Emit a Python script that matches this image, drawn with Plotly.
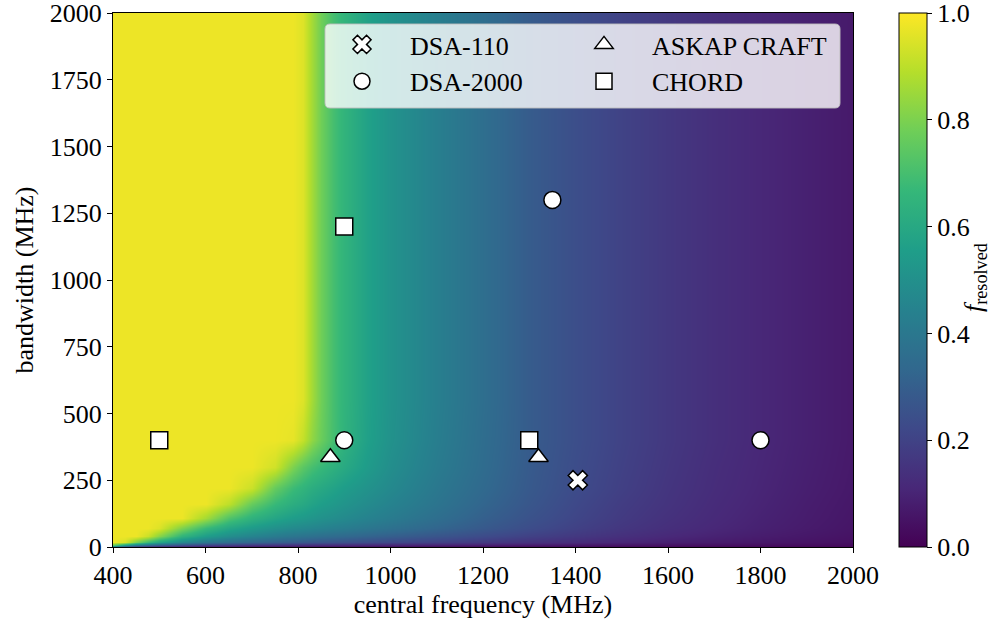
import plotly.graph_objects as go

# ---------------- data ----------------
freq_mhz = [400, 425, 450, 475, 500, 550, 600, 650, 700, 750, 790, 810, 830, 850,
            875, 900, 950, 1000, 1100, 1200, 1300, 1400, 1500, 1600, 1700, 1800, 1900, 2000]
bw_mhz = [0, 8, 20, 40, 70, 110, 160, 220, 300, 400, 550, 2000]

# f_resolved, one row per bandwidth
f_bw0 = [.30, .18, .11, .08, .06, .05, .04, .035, .03, .028, .026, .025, .024, .023,
         .022, .021, .02, .019, .017, .015, .013, .012, .011, .01, .009, .008, .007, .006]
f_bw8 = [.75, .55, .42, .35, .30, .24, .20, .18, .16, .15, .14, .135, .13, .126,
         .122, .118, .11, .103, .092, .082, .072, .063, .055, .048, .042, .036, .031, .027]
f_bw20 = [.975, .94, .80, .68, .59, .47, .40, .36, .33, .305, .29, .28, .272, .265,
          .257, .25, .235, .22, .195, .17, .145, .125, .105, .088, .074, .062, .051, .042]
f_bw40 = [.975, .975, .975, .92, .82, .65, .55, .49, .45, .415, .39, .38, .37, .36,
          .35, .34, .32, .30, .265, .23, .195, .165, .137, .113, .094, .078, .063, .05]
f_bw70 = [.975, .975, .975, .975, .95, .80, .67, .59, .54, .50, .475, .465, .455, .445,
          .43, .42, .395, .37, .325, .28, .235, .195, .16, .133, .11, .09, .073, .057]
f_bw110 = [.975, .975, .975, .975, .975, .975, .86, .72, .64, .585, .55, .535, .52, .505,
           .49, .475, .445, .415, .36, .305, .255, .21, .172, .142, .117, .095, .077, .06]
f_bw160 = [.975, .975, .975, .975, .975, .975, .975, .90, .76, .67, .62, .60, .575, .555,
           .535, .515, .48, .445, .385, .325, .27, .22, .18, .15, .122, .10, .08, .063]
f_bw220 = [.975, .975, .975, .975, .975, .975, .975, .975, .92, .76, .68, .65, .62, .60,
           .575, .55, .51, .47, .40, .34, .28, .23, .19, .155, .127, .104, .084, .066]
f_bw300 = [.975, .975, .975, .975, .975, .975, .975, .975, .975, .93, .80, .74, .70, .67,
           .635, .605, .545, .49, .415, .35, .285, .235, .195, .16, .13, .107, .087, .068]
f_bw400 = [.975, .975, .975, .975, .975, .975, .975, .975, .975, .975, .965, .91, .83, .77,
           .70, .645, .565, .505, .425, .355, .29, .24, .20, .165, .135, .11, .09, .07]
f_bw550 = [.975, .975, .975, .975, .975, .975, .975, .975, .975, .975, .975, .95, .86, .78,
           .70, .65, .57, .51, .43, .36, .29, .24, .20, .165, .135, .11, .09, .07]
f_bw2000 = [.975, .975, .975, .975, .975, .975, .975, .975, .975, .975, .975, .95, .86, .78,
            .70, .65, .57, .51, .43, .36, .29, .24, .20, .165, .135, .11, .09, .07]
f_resolved = [f_bw0, f_bw8, f_bw20, f_bw40, f_bw70, f_bw110, f_bw160, f_bw220,
              f_bw300, f_bw400, f_bw550, f_bw2000]

# instruments: (central frequency, bandwidth)
dsa110_freq = [1405]
dsa110_bw = [250]
dsa2000_freq = [1350, 900, 1800]
dsa2000_bw = [1300, 400, 400]
askap_freq = [870, 1320]
askap_bw = [336, 336]
chord_freq = [500, 900, 1300]
chord_bw = [400, 1200, 400]

x_ticks = [400, 600, 800, 1000, 1200, 1400, 1600, 1800, 2000]
y_ticks = [0, 250, 500, 750, 1000, 1250, 1500, 1750, 2000]
cbar_ticks = [0.0, 0.2, 0.4, 0.6, 0.8, 1.0]

# ---------------- figure ----------------
FONT = "Liberation Serif"
FS = 26
W, H = 1008, 626
ML, MR, MT, MB = 113, 155, 13, 79
PW, PH = W - ML - MR, H - MT - MB


def px(x):
    return (x - ML) / PW


def py(y):
    return 1 - (y - MT) / PH


fig = go.Figure()
fig.add_trace(go.Heatmap(
    x=freq_mhz, y=bw_mhz, z=f_resolved, colorscale="Viridis", zmin=0, zmax=1,
    zsmooth="best", showscale=True, showlegend=False, hoverinfo="skip",
    colorbar=dict(
        x=px(899), xanchor="left", xref="paper", xpad=0, ypad=0,
        y=0.5, yanchor="middle", len=1.0, lenmode="fraction",
        thickness=28, thicknessmode="pixels",
        outlinewidth=1, outlinecolor="black",
        tickvals=cbar_ticks, ticktext=[f"{v:.1f}" for v in cbar_ticks],
        ticks="outside", ticklen=5, tickwidth=1, tickcolor="black",
        ticklabeloverflow="allow",
        tickfont=dict(family=FONT, size=FS, color="black"),
    ),
))

mk = dict(color="white", size=17, line=dict(color="black", width=1.5))
series = [
    ("DSA-110", dsa110_freq, dsa110_bw, "x", "legend"),
    ("DSA-2000", dsa2000_freq, dsa2000_bw, "circle", "legend"),
    ("ASKAP CRAFT", askap_freq, askap_bw, "triangle-up", "legend2"),
    ("CHORD", chord_freq, chord_bw, "square", "legend2"),
]
for name, xs, ys, sym, leg in series:
    fig.add_trace(go.Scatter(
        x=xs, y=ys, mode="markers", name=name, legend=leg, legendgroup=name,
        marker=dict(symbol=sym, **mk), hoverinfo="skip",
    ))

# legend frame (rounded rectangle, in paper coordinates)
x0, x1 = px(325), px(840)
y1, y0 = py(24), py(108)
rx, ry = 5 / PW, 5 / PH
path = (f"M {x0+rx},{y1} L {x1-rx},{y1} Q {x1},{y1} {x1},{y1-ry} "
        f"L {x1},{y0+ry} Q {x1},{y0} {x1-rx},{y0} L {x0+rx},{y0} "
        f"Q {x0},{y0} {x0},{y0+ry} L {x0},{y1-ry} Q {x0},{y1} {x0+rx},{y1} Z")
fig.add_shape(type="path", path=path, xref="paper", yref="paper",
              fillcolor="rgba(255,255,255,0.8)", line=dict(color="rgba(190,190,190,0.9)", width=1),
              layer="above")

# colorbar label
fig.add_annotation(text="<i>f</i><sub>resolved</sub>", x=px(975), y=py(278),
                   xref="paper", yref="paper", showarrow=False, textangle=-90,
                   xanchor="center", yanchor="middle",
                   font=dict(family=FONT, size=FS, color="black"))

legfont = dict(family=FONT, size=FS, color="black")
leg_top = py(21)
fig.update_layout(
    width=W, height=H,
    margin=dict(l=ML, r=MR, t=MT, b=MB, autoexpand=False),
    paper_bgcolor="white", plot_bgcolor="white",
    font=dict(family=FONT, size=FS, color="black"),
    legend=dict(x=px(314), y=leg_top, xanchor="left", yanchor="top",
                bgcolor="rgba(0,0,0,0)", borderwidth=0, font=legfont,
                itemwidth=86, tracegroupgap=0),
    legend2=dict(x=px(556), y=leg_top, xanchor="left", yanchor="top",
                 bgcolor="rgba(0,0,0,0)", borderwidth=0, font=legfont,
                 itemwidth=86, tracegroupgap=0),
    xaxis=dict(range=[400, 2000], tickvals=x_ticks, ticks="outside", ticklen=5,
               tickwidth=1, tickcolor="black", showgrid=False, zeroline=False,
               showline=True, linecolor="black", linewidth=1, mirror=True,
               automargin=False, ticklabeloverflow="allow",
               tickfont=dict(family=FONT, size=FS, color="black"),
               title=dict(text="central frequency (MHz)", standoff=4,
                          font=dict(family=FONT, size=FS, color="black"))),
    yaxis=dict(range=[0, 2000], tickvals=y_ticks, ticks="outside", ticklen=5,
               tickwidth=1, tickcolor="black", showgrid=False, zeroline=False,
               showline=True, linecolor="black", linewidth=1, mirror=True,
               automargin=False, ticklabeloverflow="allow",
               tickfont=dict(family=FONT, size=FS, color="black"),
               title=dict(text="bandwidth (MHz)", standoff=8,
                          font=dict(family=FONT, size=FS, color="black"))),
)

fig.write_html("out.html")
